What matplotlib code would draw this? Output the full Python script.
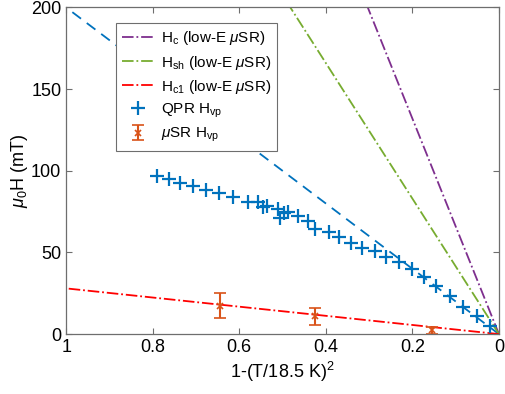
import numpy as np
import matplotlib
matplotlib.use("Agg")
import matplotlib.pyplot as plt

plt.rcParams['font.family'] = ['Liberation Sans', 'DejaVu Sans']
plt.rcParams['mathtext.fontset'] = 'custom'
plt.rcParams['mathtext.rm'] = 'Liberation Sans'
plt.rcParams['mathtext.it'] = 'Liberation Sans:italic'

# QPR vortex penetration field, x = 1-(T/Tc)^2
qpr_x = [0.790, 0.763, 0.737, 0.707, 0.677, 0.647, 0.615, 0.579, 0.556, 0.545,
         0.536, 0.511, 0.505, 0.497, 0.488, 0.465, 0.442, 0.426, 0.393, 0.369,
         0.342, 0.316, 0.286, 0.260, 0.232, 0.200, 0.173, 0.146, 0.113, 0.082,
         0.050, 0.021]
qpr_h = [97.1, 95.1, 92.8, 90.6, 88.4, 86.1, 83.8, 80.7, 80.7, 77.7,
         78.7, 76.7, 71.3, 73.9, 74.7, 72.6, 69.5, 64.5, 62.8, 59.7,
         56.0, 52.6, 50.6, 47.5, 43.9, 39.8, 35.0, 29.5, 23.4, 16.9,
         10.8, 4.7]

# muSR vortex penetration field
musr_x = [0.645, 0.426, 0.154]
musr_h = [17.5, 10.8, 2.3]
musr_err = [7.6, 5.0, 2.0]

# slopes of the low-E muSR fields (mT per unit of x) and the dashed guide
slope_hc = 660
slope_hsh = 415
slope_hc1 = 28
slope_guide = 200

blue = '#0072BD'
orange = '#D95319'
green = '#77AC30'
purple = '#7E2F8E'
axcol = '#6e6e6e'

fig = plt.figure(figsize=(5.05, 3.94), dpi=100)
ax = fig.add_axes([0.131, 0.152, 0.857, 0.829])

xl = np.array([0.0, 1.0])
ax.plot(xl, slope_guide * xl, '--', color=blue, lw=1.3, dashes=(6, 4))
l1, = ax.plot(xl, slope_hc * xl, '-.', color=purple, lw=1.3)
l2, = ax.plot(xl, slope_hsh * xl, '-.', color=green, lw=1.3)
l3, = ax.plot(xl, slope_hc1 * xl, '-.', color='red', lw=1.3)
l4, = ax.plot(qpr_x, qpr_h, '+', color=blue, ms=10, mew=1.6, ls='none')
l5 = ax.errorbar(musr_x, musr_h, yerr=musr_err, fmt='x', color=orange,
                 ms=4, mew=1.2, elinewidth=1.5, capsize=4, capthick=1.5)

ax.set_xlim(1, 0)
ax.set_ylim(0, 200)
ax.set_xticks([1, 0.8, 0.6, 0.4, 0.2, 0])
ax.set_xticklabels(['1', '0.8', '0.6', '0.4', '0.2', '0'])
ax.set_yticks([0, 50, 100, 150, 200])
ax.tick_params(direction='in', top=True, right=True, labelsize=13,
               color=axcol, length=4, width=0.8)
for s in ax.spines.values():
    s.set_color(axcol)
    s.set_linewidth(0.9)

ax.set_xlabel(r'1-(T/18.5 K)$^{2}$', fontsize=13, labelpad=3)
ax.set_ylabel(r'$\mu_{0}$H (mT)', fontsize=13, labelpad=1)

leg = ax.legend([l1, l2, l3, l4, l5],
                [r'H$_{\rm c}$ (low-E $\mu$SR)', r'H$_{\rm sh}$ (low-E $\mu$SR)',
                 r'H$_{\rm c1}$ (low-E $\mu$SR)', r'QPR H$_{\rm vp}$', r'$\mu$SR H$_{\rm vp}$'],
                loc='upper left', bbox_to_anchor=(0.098, 0.975), fontsize=11,
                fancybox=False, edgecolor=axcol, framealpha=1, handlelength=2.0,
                labelspacing=0.4, borderpad=0.4, handletextpad=0.5)
leg.get_frame().set_linewidth(0.8)

fig.savefig('out.png', dpi=100)
